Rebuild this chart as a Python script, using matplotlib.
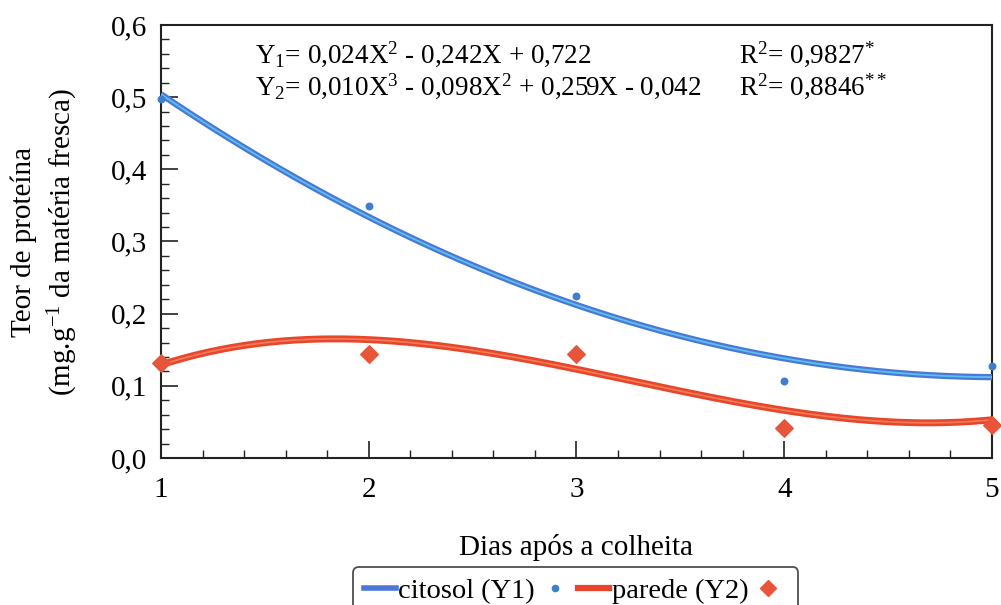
import numpy as np
import matplotlib
matplotlib.use('Agg')
import matplotlib.pyplot as plt
from matplotlib.ticker import FuncFormatter, MultipleLocator
from matplotlib.lines import Line2D

# Dias após a colheita e teores medidos
dias = [1, 2, 3, 4, 5]
citosol = [0.497, 0.349, 0.225, 0.106, 0.128]
parede = [0.132, 0.144, 0.144, 0.041, 0.046]

# Coeficientes das regressões (maior grau primeiro)
coef_y1 = [0.024, -0.242, 0.722]
coef_y2 = [0.010, -0.098, 0.259, -0.042]

eq_y1 = r'Y$_1$= 0,024X$^2$ - 0,242X + 0,722'
eq_y2 = r'Y$_2$= 0,010X$^3$ - 0,098X$^2$ + 0,259X - 0,042'
r2_y1 = r'R$^2$= 0,9827$^{*}$'
r2_y2 = r'R$^2$= 0,8846$^{**}$'

plt.rcParams['font.family'] = ['Liberation Serif', 'DejaVu Serif']
plt.rcParams['mathtext.fontset'] = 'custom'
plt.rcParams['mathtext.rm'] = 'Liberation Serif'
plt.rcParams['mathtext.it'] = 'Liberation Serif:italic'
plt.rcParams['mathtext.bf'] = 'Liberation Serif:bold'

fig = plt.figure(figsize=(10.01, 6.05), dpi=100)
ax = fig.add_axes([0.1608, 0.2430, 0.8302, 0.7157])

xs = np.linspace(1, 5, 200)
ax.plot(xs, np.polyval(coef_y1, xs), color='#4a78d8', lw=4.5, solid_capstyle='butt', zorder=3)
ax.plot(xs, np.polyval(coef_y1, xs), color='#5cc0ea', lw=1.3, zorder=3)
ax.plot(xs, np.polyval(coef_y2, xs), color='#e8452b', lw=5, solid_capstyle='butt', zorder=3)
ax.plot(xs, np.polyval(coef_y2, xs), color='#f27a55', lw=1.3, zorder=3)

ax.scatter(dias, citosol, s=22, color='#3d7fcc', zorder=4, clip_on=False)
ax.scatter(dias, parede, s=80, marker='D', color='#e8553a', zorder=4, clip_on=False)

ax.set_xlim(1, 5)
ax.set_ylim(0, 0.6)
ax.xaxis.set_major_locator(MultipleLocator(1))
ax.xaxis.set_minor_locator(MultipleLocator(0.2))
ax.yaxis.set_major_locator(MultipleLocator(0.1))
ax.yaxis.set_minor_locator(MultipleLocator(0.02))
ax.yaxis.set_major_formatter(FuncFormatter(lambda v, p: '{:.1f}'.format(v).replace('.', ',')))
ax.xaxis.set_major_formatter(FuncFormatter(lambda v, p: '{:d}'.format(int(round(v)))))

ax.tick_params(which='both', direction='in', labelsize=21, top=False, right=False, color='#222222')
ax.tick_params(which='major', length=12, width=1.2, pad=10)
ax.tick_params(which='minor', length=6, width=1)
ax.tick_params(axis='x', which='major', pad=14)
for s in ax.spines.values():
    s.set_linewidth(1.5)
    s.set_color('#222222')

ax.set_xlabel('Dias após a colheita', fontsize=21, labelpad=22)
ax.set_ylabel('Teor de proteína\n(mg.g$^{-1}$ da matéria fresca)', fontsize=21, linespacing=1.35)
ax.yaxis.set_label_coords(-0.097, 0.5)

ax.text(0.113, 0.933, eq_y1, transform=ax.transAxes, fontsize=19.5, va='center')
ax.text(0.113, 0.858, eq_y2, transform=ax.transAxes, fontsize=19.5, va='center')
ax.text(0.695, 0.933, r2_y1, transform=ax.transAxes, fontsize=19.5, va='center')
ax.text(0.695, 0.858, r2_y2, transform=ax.transAxes, fontsize=19.5, va='center')

handles = [
    Line2D([], [], color='#4a78d8', lw=4),
    Line2D([], [], ls='none', marker='o', ms=4.5, color='#3d7fcc'),
    Line2D([], [], color='#e8452b', lw=4.5),
    Line2D([], [], ls='none', marker='D', ms=8, color='#e8553a'),
]
labels = ['citosol (Y1)', '', 'parede (Y2)', '']
leg = fig.legend(handles, labels, ncol=4, loc='upper center', bbox_to_anchor=(0.575, 0.063),
                 borderaxespad=0, fontsize=20.5, frameon=True, fancybox=True, edgecolor='#222222',
                 handlelength=1.1, handletextpad=0.1, columnspacing=0.15, borderpad=0.4)
leg.get_frame().set_linewidth(1.3)

fig.savefig('out.png', dpi=100)
